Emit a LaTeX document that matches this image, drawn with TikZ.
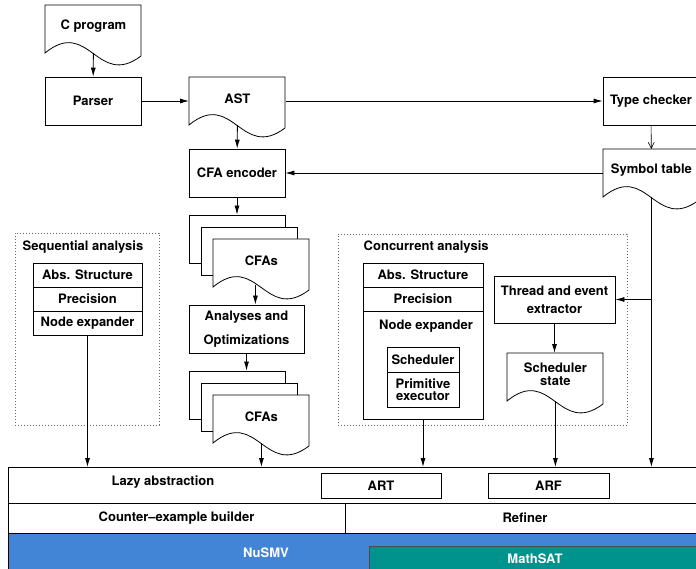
\documentclass[tikz,border=0pt]{standalone}
\usepackage{fontspec}
\setmainfont{TeX Gyre Heros}
\usetikzlibrary{arrows.meta,positioning,calc}
\definecolor{nusmvblue}{RGB}{66,133,214}
\definecolor{mathsatteal}{RGB}{0,146,140}
\tikzset{
    every node/.style={font=\bfseries\fontsize{13}{15}\selectfont},
    box/.style={draw, fill=white, minimum width=96pt, minimum height=48pt, inner sep=0pt, align=center},
    doc/.style={minimum width=96pt, minimum height=42pt, inner sep=0pt, align=center},
    row/.style={draw, fill=white, minimum height=24pt, inner sep=0pt, outer sep=0pt, align=center},
    layer/.style={draw, inner sep=0pt, outer sep=0pt, anchor=north west},
    group/.style={draw=black!60, dash pattern=on 1pt off 2pt, inner sep=0pt},
    arr/.style={-{Latex[length=9pt,width=5pt]}},
    thinarr/.style={-{Straight Barb[length=6pt,width=6pt]}, line width=0.6pt},
}
% document symbol with a wavy lower edge
\newcommand{\docnode}[3]{%
    \draw[fill=white] (#2) -- ++(96pt,0pt) -- ++(0pt,-51pt)
        .. controls +(-44pt,-33pt) and +(44pt,36pt) .. ++(-96pt,3pt) -- cycle;
    \node[doc, anchor=north west] (#1) at (#2) {#3};
    \coordinate (#1-w) at ([yshift=-48pt]#1.north);
}

\begin{document}
\begin{tikzpicture}[x=1pt, y=-1pt, line width=0.8pt]
    \useasboundingbox (0,0) rectangle (696,569);
    \clip (0,0) rectangle (696,569);
    % front end
    \docnode{cprog}{45,5}{C program}
    \node[box] (parser) at (93,101) {Parser};
    \docnode{ast}{189,77}{AST}
    \node[box] (tcheck) at (651,101) {Type checker};
    \docnode{symtab}{603,149}{Symbol table}
    \node[box] (enc) at (237,173) {CFA encoder};
    % first stack of CFAs
    \node[box] (cfaA1) at (237,239) {};
    \node[box] (cfaA2) at ([shift={(12pt,-12pt)}]cfaA1) {};
    \docnode{cfaA}{213,239}{CFAs}
    \node[box, minimum width=115pt] (ana) at (246.5,329) {Analyses and\\[9pt]Optimizations};
    % second stack of CFAs
    \node[box] (cfaB1) at (237,395) {};
    \node[box] (cfaB2) at ([shift={(12pt,-12pt)}]cfaB1) {};
    \docnode{cfaB}{213,395}{CFAs}
    % sequential analysis
    \node[group, minimum width=144pt, minimum height=192pt] (seq) at (87,329) {};
    \node[anchor=west] (seqtitle) at (19,247) {Sequential analysis};
    \node[row, minimum width=109pt] (seqabs) at (87.5,275) {Abs. Structure};
    \node[row, minimum width=109pt, below=0pt of seqabs] (seqprec) {Precision};
    \node[row, minimum width=109pt, below=0pt of seqprec] (seqexp) {Node expander};
    % concurrent analysis
    \node[group, minimum width=289pt, minimum height=191pt] (conc) at (482.5,329.5) {};
    \node[anchor=west] (conctitle) at (360,247) {Concurrent analysis};
    \node[row, minimum width=120pt] (concabs) at (423,275) {Abs. Structure};
    \node[row, minimum width=120pt, below=0pt of concabs] (concprec) {Precision};
    \node[row, minimum width=120pt, minimum height=108pt, below=0pt of concprec] (concexp) {};
    \node (concexplabel) at (426,326) {Node expander};
    \node[row, minimum width=72pt, minimum height=25pt] (sched) at (423,359.5) {Scheduler};
    \node[row, minimum width=72pt, minimum height=35pt, below=0pt of sched,
        font=\bfseries\fontsize{13}{12}\selectfont] (prim) {Primitive\\executor};
    \node[box, minimum width=121pt, minimum height=47pt,
        font=\bfseries\fontsize{13}{18}\selectfont] (thread) at (554.5,299.5) {Thread and event\\extractor};
    \docnode{schedstate}{507,353}{Scheduler\\[-2pt]state}
    % back end
    \node[layer, fill=white, minimum width=697pt, minimum height=36pt] (lazy) at (8,467) {};
    \node (lazylabel) at (163,482) {Lazy abstraction};
    \node[row, minimum width=120pt, minimum height=25pt] (art) at (381,485.5) {ART};
    \node[row, minimum width=121pt, minimum height=25pt] (arf) at (548.5,485.5) {ARF};
    \node[layer, minimum width=337pt, minimum height=30pt] (ceb) at (lazy.south west) {Counter--example builder};
    \node[layer, minimum width=360pt, minimum height=30pt] (refiner) at (ceb.north east) {Refiner};
    \node[layer, fill=nusmvblue, minimum width=697pt, minimum height=40pt] (nusmv) at (ceb.south west) {};
    \node[text=white] (nusmvlabel) at (266,553) {NuSMV};
    \node[layer, draw=black!70, fill=mathsatteal, minimum width=335pt, minimum height=40pt] (mathsat) at (369,546) {};
    \node[text=white] (mathsatlabel) at (535,559) {MathSAT};
    % connectors
    \draw[arr] (cprog-w) -- (parser);
    \draw[arr] (parser.east) -- (parser.east -| ast.west);
    \draw[arr] (ast.east |- tcheck.west) -- (tcheck.west);
    \draw[arr] (ast-w) -- (enc);
    \draw[thinarr] (tcheck) -- (symtab);
    \draw[arr] (symtab.west |- enc.east) -- (enc.east);
    \draw[arr] (enc) -- (cfaA1);
    \coordinate (cfaA-o) at ([xshift=-6pt,yshift=2pt]cfaA-w);
    \draw[arr] (cfaA-o) -- (cfaA-o |- ana.north);
    \draw[arr] (ana.south) -- (ana.south |- cfaB1.north);
    \draw[arr] (cfaB-w) -- (cfaB-w |- lazy.north);
    \draw[arr] (seqexp) -- (seqexp |- lazy.north);
    \draw[arr] (concexp) -- (concexp |- lazy.north);
    \draw[arr] (thread.south) -- (thread.south |- schedstate.north);
    \draw[arr] (schedstate-w) -- (schedstate-w |- lazy.north);
    \draw[arr] (symtab-w) -- (symtab-w |- lazy.north);
    \coordinate (branch) at (symtab-w |- thread.east);
    \draw[arr] (branch) -- (thread.east);
\end{tikzpicture}
\end{document}
